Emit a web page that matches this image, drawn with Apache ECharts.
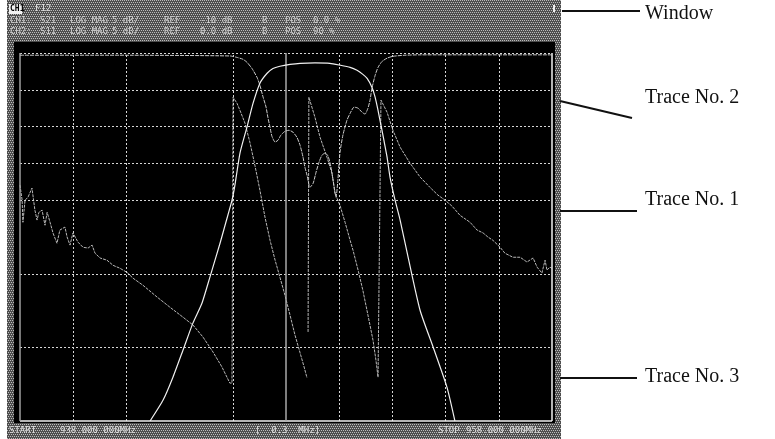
<!DOCTYPE html>
<html>
<head>
<meta charset="utf-8">
<style>
  html, body { margin: 0; padding: 0; background: #fff; }
  #chart { width: 775px; height: 439px; }
</style>
<script src="https://cdn.jsdelivr.net/npm/echarts@6/dist/echarts.min.js"></script>
</head>
<body>
<div id="chart"></div>
<script>
// sweep: frequency in MHz, level in dB (10 dB/div, ref 0 dB at top)
var startMHz = 938, stopMHz = 958, centerMHz = 948;
var gridX = [940, 942, 946, 950, 952, 954, 956];
var gridY = [-10, -20, -30, -40, -60, -80];

// transmission (bright passband)
var tracePass = [
  [942.89,-100],[943.38,-94.3],[943.75,-88.1],[944.13,-80.7],[944.50,-73.4],[944.84,-68.0],
  [945.14,-60.9],[945.52,-51.7],[945.74,-46.0],[945.97,-40.0],[946.08,-35.9],[946.27,-27.2],
  [946.53,-20.2],[946.76,-13.7],[947.02,-8.2],[947.29,-5.5],[947.51,-4.2],[947.77,-3.6],
  [948.15,-3.1],[948.53,-2.8],[949.09,-2.7],[949.65,-2.8],[950.03,-3.3],[950.41,-3.9],
  [950.67,-4.7],[950.89,-5.8],[951.05,-6.9],[951.23,-9.3],[951.35,-12.0],[951.46,-15.6],
  [951.57,-19.6],[951.68,-23.7],[951.80,-28.3],[951.91,-33.7],[952.10,-40.0],[952.29,-45.4],
  [952.59,-55.5],[953.04,-69.9],[953.53,-79.9],[954.05,-90.8],[954.35,-100]
];

// reflection (high outside the band, ripples inside)
var traceRefl = [
  [938.00,-0.6],[941.76,-0.6],[945.89,-0.8],[946.16,-1.2],[946.38,-1.7],[946.53,-2.5],
  [946.72,-4.2],[946.91,-6.6],[947.02,-8.8],[947.14,-12.0],[947.25,-14.7],[947.32,-17.5],
  [947.40,-20.2],[947.47,-22.6],[947.59,-24.2],[947.70,-23.7],[947.81,-22.3],[947.96,-21.3],
  [948.11,-21.0],[948.26,-21.5],[948.41,-22.9],[948.53,-25.1],[948.64,-28.3],[948.71,-31.0],
  [948.79,-33.2],[948.90,-36.5],[949.02,-35.4],[949.13,-32.4],[949.24,-29.7],[949.35,-27.8],
  [949.47,-27.2],[949.58,-28.0],[949.69,-31.0],[949.80,-35.9],[949.88,-39.2],[949.95,-34.6],
  [950.03,-27.0],[950.14,-22.3],[950.29,-18.3],[950.41,-16.4],[950.56,-14.7],[950.71,-15.0],
  [950.86,-16.1],[950.97,-16.6],[951.08,-15.0],[951.16,-12.8],[951.23,-9.6],[951.35,-6.1],
  [951.46,-3.9],[951.61,-2.3],[951.80,-1.4],[952.02,-0.9],[952.47,-0.6],[953.04,-0.5],
  [958.00,-0.5]
];

// wrapped trace (noisy skirts, sawtooth in the band)
var traceWrap = [
  [938.00,-35.9],[938.08,-40.0],[938.11,-46.0],[938.19,-40.0],[938.30,-39.2],[938.45,-36.7],
  [938.56,-42.7],[938.64,-45.4],[938.71,-43.3],[938.83,-42.7],[938.94,-46.8],[939.02,-43.3],
  [939.13,-46.0],[939.24,-48.9],[939.39,-51.7],[939.50,-48.1],[939.69,-47.3],[939.77,-50.0],
  [939.88,-52.2],[939.99,-48.9],[940.18,-51.4],[940.37,-52.8],[940.56,-53.0],[940.71,-52.2],
  [940.82,-54.4],[941.01,-55.7],[941.27,-56.3],[941.50,-57.7],[941.76,-58.5],[942.02,-59.6],
  [942.25,-61.2],[942.62,-63.1],[943.15,-66.3],[943.64,-69.1],[944.13,-71.8],[944.50,-73.9],
  [944.88,-77.2],[945.26,-81.3],[945.59,-85.3],[945.89,-89.7],[945.97,-89.7],
  [946.01,-12.0],[946.16,-13.7],[946.27,-15.6],[946.46,-19.1],[946.65,-24.5],[946.83,-30.5],
  [947.02,-37.3],[947.21,-44.6],[947.40,-50.9],[947.59,-56.3],[947.77,-60.9],[947.96,-65.8],
  [948.15,-71.2],[948.34,-76.7],[948.53,-81.5],[948.68,-85.3],[948.79,-88.3],[948.81,'-'],
  [948.83,-75.8],[948.86,-12.0],[949.09,-17.5],[949.28,-22.9],[949.54,-28.3],[949.73,-32.7],
  [949.84,-38.1],[950.03,-41.4],[950.22,-46.0],[950.41,-50.9],[950.52,-53.6],[950.71,-59.0],
  [950.89,-64.5],[951.08,-71.2],[951.27,-78.0],[951.38,-83.4],[951.46,-88.1],[951.53,-88.1],
  [951.57,-12.8],[951.61,-12.8],[951.80,-16.1],[952.02,-21.0],[952.29,-25.6],[952.66,-29.9],
  [953.04,-33.7],[953.41,-36.5],[953.71,-38.6],[953.98,-40.0],[954.24,-41.6],[954.54,-44.1],
  [954.92,-46.0],[955.18,-48.1],[955.41,-48.9],[955.59,-50.0],[955.78,-50.9],[956.05,-52.8],
  [956.23,-54.4],[956.53,-55.5],[956.80,-55.5],[957.06,-56.8],[957.29,-55.7],[957.44,-58.2],
  [957.62,-59.8],[957.74,-56.3],[957.81,-59.0],[957.92,-58.2],[958.00,-58.5]
];

var headerRow2 = [[10,'CH1:'],[40,'S21'],[70,'LOG MAG'],[112,'5 dB/'],[164,'REF'],[200,'-10 dB'],[262,'B'],[285,'POS'],[313,'0.0 %']];
var headerRow3 = [[10,'CH2:'],[40,'S11'],[70,'LOG MAG'],[112,'5 dB/'],[164,'REF'],[200,'0.0 dB'],[262,'B'],[285,'POS'],[313,'90 %']];
var footer = [[9,'START'],[60,'938.000 000MHz'],[255,'[  0.3  MHz]'],[438,'STOP'],[466,'958.000 000MHz']];
var callouts = [
  { text: 'Window', y: 14, line: [562, 11, 640, 11] },
  { text: 'Trace No. 2', y: 98, line: [560, 101, 632, 118] },
  { text: 'Trace No. 1', y: 200, line: [560, 211, 637, 211] },
  { text: 'Trace No. 3', y: 377, line: [560, 378, 637, 378] }
];

// dithered grey of the analyser screen frame
var pat = document.createElement('canvas');
pat.width = 4; pat.height = 4;
var pc = pat.getContext('2d');
pc.fillStyle = '#4e4e4e'; pc.fillRect(0, 0, 4, 4);
pc.fillStyle = '#bcbcbc';
pc.fillRect(0, 0, 1, 1); pc.fillRect(2, 0, 1, 1); pc.fillRect(1, 2, 1, 1); pc.fillRect(3, 2, 1, 1);

var mono = '"DejaVu Sans Mono", monospace';
var graphics = [
  { type: 'rect', z: 0, silent: true, shape: { x: 7, y: 0, width: 554, height: 439 }, style: { fill: { image: pat, repeat: 'repeat' } } },
  { type: 'rect', z: 0, silent: true, shape: { x: 14, y: 42, width: 541, height: 381 }, style: { fill: '#000' } },
  { type: 'rect', z: 1, silent: true, shape: { x: 9, y: 4, width: 13, height: 10 }, style: { fill: '#f2f2f2' } },
  { type: 'text', z: 1, silent: true, x: 10, y: 9, style: { text: 'CH1', fill: '#000', font: 'bold 8px ' + mono, verticalAlign: 'middle' } },
  { type: 'text', z: 1, silent: true, x: 35, y: 9, style: { text: 'F12', fill: '#e0e0e0', font: '9px ' + mono, verticalAlign: 'middle' } },
  { type: 'rect', z: 1, silent: true, shape: { x: 553, y: 5, width: 2, height: 7 }, style: { fill: '#f2f2f2' } }
];
headerRow2.forEach(function(t) {
  graphics.push({ type: 'text', z: 1, silent: true, x: t[0], y: 21, style: { text: t[1], fill: '#d0d0d0', font: '9px ' + mono, verticalAlign: 'middle' } });
});
headerRow3.forEach(function(t) {
  graphics.push({ type: 'text', z: 1, silent: true, x: t[0], y: 32, style: { text: t[1], fill: '#d0d0d0', font: '9px ' + mono, verticalAlign: 'middle' } });
});
footer.forEach(function(t) {
  graphics.push({ type: 'text', z: 1, silent: true, x: t[0], y: 431, style: { text: t[1], fill: '#e0e0e0', font: '9px ' + mono, verticalAlign: 'middle' } });
});
callouts.forEach(function(c) {
  graphics.push({ type: 'line', z: 1, silent: true, shape: { x1: c.line[0], y1: c.line[1], x2: c.line[2], y2: c.line[3] }, style: { stroke: '#111', lineWidth: 2 } });
  graphics.push({ type: 'text', z: 1, silent: true, x: 645, y: c.y, style: { text: c.text, fill: '#111', font: '20px "Liberation Serif", serif', verticalAlign: 'middle' } });
});

var dotted = { color: '#d6d6d6', width: 1, type: [2, 2] };
var rules = [];
gridX.forEach(function(v) { rules.push({ xAxis: v, lineStyle: dotted }); });
gridY.forEach(function(v) { rules.push({ yAxis: v, lineStyle: dotted }); });
rules.push({ yAxis: 0, lineStyle: dotted });
rules.push({ yAxis: -100, lineStyle: { color: '#f0f0f0', width: 1.5, type: 'solid' } });
rules.push({ xAxis: startMHz, lineStyle: { color: '#a0a0a0', width: 1.5, type: 'solid' } });
rules.push({ xAxis: stopMHz, lineStyle: { color: '#f0f0f0', width: 1.5, type: 'solid' } });
rules.push({ xAxis: centerMHz, lineStyle: { color: '#a8a8a8', width: 1.5, type: 'solid' } });

var chart = echarts.init(document.getElementById('chart'), null, { renderer: 'canvas' });
chart.setOption({
  animation: false,
  backgroundColor: '#fff',
  graphic: graphics,
  grid: { left: 20, right: 223, top: 53, bottom: 18 },
  xAxis: { type: 'value', min: startMHz, max: stopMHz, interval: 2, axisLine: { show: false }, axisTick: { show: false }, axisLabel: { show: false }, splitLine: { show: false } },
  yAxis: { type: 'value', min: -100, max: 0, interval: 10, axisLine: { show: false }, axisTick: { show: false }, axisLabel: { show: false }, splitLine: { show: false } },
  series: [
    {
      type: 'line', z: 3, data: [], silent: true,
      markLine: { silent: true, symbol: 'none', label: { show: false }, animation: false, data: rules }
    },
    {
      name: 'wrap', type: 'line', z: 4, data: traceWrap, showSymbol: false, connectNulls: false,
      lineStyle: { color: '#b8b8b8', width: 1, type: [3, 1] }
    },
    {
      name: 'refl', type: 'line', z: 5, data: traceRefl, showSymbol: false, smooth: 0.2,
      lineStyle: { color: '#cccccc', width: 1, type: [4, 1] }
    },
    {
      name: 'pass', type: 'line', z: 6, data: tracePass, showSymbol: false, smooth: 0.2,
      lineStyle: { color: '#f0f0f0', width: 1.2 }
    }
  ]
});
</script>
</body>
</html>
